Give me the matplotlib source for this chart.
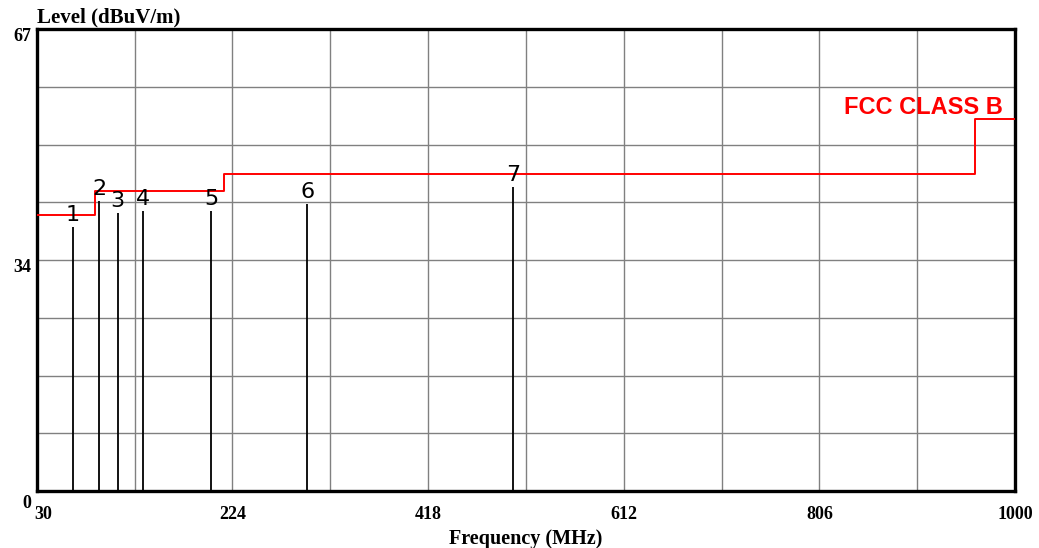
import matplotlib
matplotlib.use("Agg")
import matplotlib.pyplot as plt
import numpy as np
from matplotlib.transforms import ScaledTranslation

# ---- data ----
limit_freq = [30, 88, 216, 960, 1000]
limit_level = [40, 43.5, 46, 54, 54]
limit_name = "FCC CLASS B"

peak_ids = ["1", "2", "3", "4", "5", "6", "7"]
peak_freq = [65.7, 91.8, 110.3, 135.7, 202.8, 298.4, 502.0]
peak_level = [38.3, 42.1, 40.4, 40.7, 40.6, 41.6, 44.1]

x_major = [30, 224, 418, 612, 806, 1000]
x_major_labels = ["30", "224", "418", "612", "806", "1000"]
x_minor = [127, 321, 515, 709, 903]
y_major = [0, 33.5, 67]
y_major_labels = ["0", "34", "67"]
y_minor = [8.375, 16.75, 25.125, 41.875, 50.25, 58.625]

x_label = "Frequency (MHz)"
y_label = "Level (dBuV/m)"

# ---- figure ----
fig = plt.figure(figsize=(10.39, 5.48), dpi=100)
ax = fig.add_axes([36.7 / 1039, 1 - 491 / 548, (1015 - 36.7) / 1039, (491 - 29.3) / 548])
ax.set_xlim(30, 1000)
ax.set_ylim(0, 67)

ax.set_xticks(x_major)
ax.set_xticklabels(x_major_labels)
ax.set_xticks(x_minor, minor=True)
ax.set_yticks(y_major)
ax.set_yticklabels(y_major_labels)
ax.set_yticks(y_minor, minor=True)
ax.grid(True, which="both", color="#808080", linewidth=1.0)
ax.set_axisbelow(True)
ax.tick_params(which="both", length=0)
ax.tick_params(axis="x", pad=11)
ax.tick_params(axis="y", pad=4)

serif = "Liberation Serif"
for lab in ax.get_xticklabels() + ax.get_yticklabels():
    lab.set_fontfamily(serif)
    lab.set_fontweight("bold")
    lab.set_fontsize(13)

# shift tick labels like the reference
xl = ax.get_xticklabels()
xl[0].set_horizontalalignment("left")
xl[0].set_transform(xl[0].get_transform() + ScaledTranslation(-2 / 100, 0, fig.dpi_scale_trans))
yl = ax.get_yticklabels()
for i, lab in enumerate(yl):
    dy = -10 if i == 0 else -5
    lab.set_transform(lab.get_transform() + ScaledTranslation(0, dy / 100, fig.dpi_scale_trans))

for sp in ax.spines.values():
    sp.set_linewidth(2.4)
    sp.set_color("black")

# limit line
ax.step(limit_freq, limit_level, where="post", color="#ff0000", linewidth=1.4, zorder=3)
ax.annotate(limit_name, xy=(1000, limit_level[-1]), xytext=(-12, 5), textcoords="offset pixels",
            ha="right", va="baseline", color="#ff0000", fontsize=17, fontweight="bold",
            family="Liberation Sans", zorder=4)

# peaks
ax.vlines(peak_freq, 0, peak_level, color="black", linewidth=1.3, zorder=4)
for pid, f, lv in zip(peak_ids, peak_freq, peak_level):
    ax.annotate(pid, xy=(f, lv), xytext=(0, 6), textcoords="offset pixels",
                ha="center", va="baseline", fontsize=16, family="DejaVu Sans",
                color="black", zorder=5)

ax.set_xlabel(x_label, family=serif, fontweight="bold", fontsize=14.5, labelpad=4)
ax.annotate(y_label, xy=(0, 1), xycoords="axes fraction", xytext=(0, 7), textcoords="offset pixels",
            ha="left", va="baseline", family=serif, fontweight="bold", fontsize=15)

fig.savefig("out.png", dpi=100, facecolor="white")
